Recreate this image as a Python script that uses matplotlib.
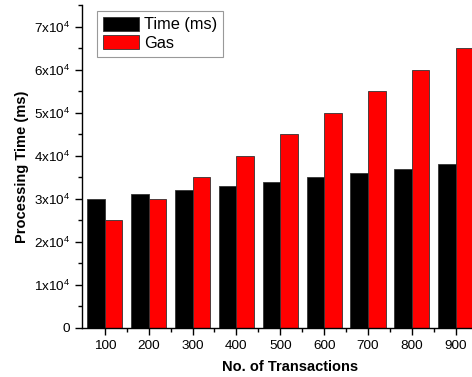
import matplotlib
matplotlib.use("Agg")
import matplotlib.pyplot as plt
import numpy as np
from matplotlib.ticker import MultipleLocator, FixedLocator, FuncFormatter

categories = ["100", "200", "300", "400", "500", "600", "700", "800", "900"]
time_ms = [30000, 31000, 32000, 33000, 34000, 35000, 36000, 37000, 38000]
gas = [25000, 30000, 35000, 40000, 45000, 50000, 55000, 60000, 65000]

plt.rcParams['font.family'] = ['Liberation Sans', 'DejaVu Sans']

fig = plt.figure(figsize=(4.72, 3.77), dpi=100)
ax = fig.add_axes([82/472, 1-328/377, 1-82/472, (328-5)/377])

x = np.arange(len(categories))
w = 0.4
ax.bar(x - w/2, time_ms, w, color='black', edgecolor='#333333', linewidth=0.6, label='Time (ms)')
ax.bar(x + w/2, gas, w, color='#ff0000', edgecolor='#333333', linewidth=0.6, label='Gas')

ax.set_xlim(-0.52, 8.37)
ax.set_ylim(0, 75000)
ax.set_xticks(x)
ax.set_xticklabels(categories)
ax.xaxis.set_minor_locator(FixedLocator(x[:-1] + 0.5))
ax.yaxis.set_major_locator(MultipleLocator(10000))
ax.yaxis.set_minor_locator(MultipleLocator(5000))

def fmt(v, pos):
    n = int(round(v / 10000))
    if n == 0:
        return "0"
    return r"%dx10$^{\mathregular{4}}$" % n
ax.yaxis.set_major_formatter(FuncFormatter(fmt))

for s in ['top', 'right']:
    ax.spines[s].set_visible(False)
ax.spines['left'].set_linewidth(1.0)
ax.spines['bottom'].set_linewidth(1.0)
ax.tick_params(axis='both', which='major', direction='out', length=5, width=1, labelsize=9.7)
ax.tick_params(axis='both', which='minor', direction='out', length=3, width=1)
ax.tick_params(axis='x', which='both', top=False)
ax.tick_params(axis='y', which='both', right=False)

ax.set_ylabel('Processing Time (ms)', fontsize=10.5, fontweight='bold')
ax.yaxis.set_label_coords(-0.136, 0.5)
ax.set_xlabel('No. of Transactions', fontsize=10.5, fontweight='bold')
ax.xaxis.set_label_coords(0.533, -0.10)

leg = ax.legend(loc='upper left', bbox_to_anchor=(0.0385, 0.981), fontsize=11.8,
                frameon=True, fancybox=False, edgecolor='#999999', framealpha=1,
                handlelength=2.2, handleheight=0.92, handletextpad=0.3,
                borderpad=0.35, labelspacing=0.18, borderaxespad=0)
leg.get_frame().set_linewidth(0.8)

fig.savefig('out.png', dpi=100)
